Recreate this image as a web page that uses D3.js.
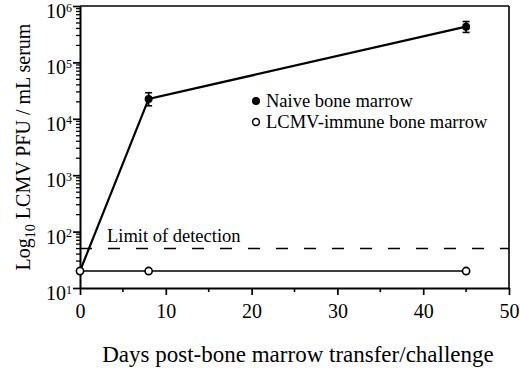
<!DOCTYPE html>
<html><head><meta charset="utf-8">
<script src="https://cdn.jsdelivr.net/npm/d3@7"></script>
<style>body{margin:0;background:#fff}svg{display:block}svg text{font-family:"Liberation Serif","Times New Roman",serif !important;fill:#000}</style>
</head><body>
<svg id="c" width="520" height="372"></svg>
<script>
const days = [0, 8, 45];
const naive = [20, 22500, 430000];
const naiveHi = [20, 29000, 530000];
const naiveLo = [20, 17000, 340000];
const immune = [20, 20, 20];
const limit = 50;
const xTicks = [0, 10, 20, 30, 40, 50];
const yExps = [1, 2, 3, 4, 5, 6];
const legendLabels = ["Naive bone marrow", "LCMV-immune bone marrow"];

const svg = d3.select("#c");
const L = 80, R = 509, T = 6, B = 288;
const x = d3.scaleLinear().domain([0, 50]).range([L, R]);
const y = d3.scaleLog().domain([10, 1e6]).range([B, T]);

// frame top/right
svg.append("line").attr("x1", L).attr("x2", R).attr("y1", T).attr("y2", T).attr("stroke", "#000").attr("stroke-width", 1.6);
svg.append("line").attr("x1", R).attr("x2", R).attr("y1", T).attr("y2", B).attr("stroke", "#000").attr("stroke-width", 1.6);

// x axis
const xMinor = d3.range(5, 50, 10);
const gx = svg.append("g").attr("transform", `translate(0,${B})`);
gx.call(d3.axisBottom(x).tickValues(xTicks).tickSize(7).tickSizeOuter(0).tickPadding(8));
gx.attr("font-family", null);
gx.append("g").selectAll("line").data(xMinor).join("line")
  .attr("x1", d => x(d)).attr("x2", d => x(d)).attr("y1", 0).attr("y2", 4).attr("stroke", "#000").attr("stroke-width", 1.6);
gx.select(".domain").attr("stroke-width", 2);
gx.selectAll(".tick line").attr("stroke-width", 1.7);
gx.selectAll(".tick text").attr("font-size", 20).attr("dy", "0.75em");

// y axis
const gy = svg.append("g").attr("transform", `translate(${L},0)`);
gy.call(d3.axisLeft(y).tickValues(yExps.map(e => Math.pow(10, e))).tickSize(7).tickSizeOuter(0).tickFormat(""));
gy.attr("font-family", null);
gy.select(".domain").attr("stroke-width", 2);
gy.selectAll(".tick line").attr("stroke-width", 1.7);
const yMinor = [];
for (let e = 1; e < 6; e++) for (let m = 2; m <= 9; m++) yMinor.push(m * Math.pow(10, e));
gy.append("g").selectAll("line").data(yMinor).join("line")
  .attr("x1", -4).attr("x2", 0).attr("y1", d => y(d)).attr("y2", d => y(d)).attr("stroke", "#000").attr("stroke-width", 1.3);
const yl = gy.append("g").selectAll("text").data(yExps).join("text")
  .attr("x", -8).attr("y", d => y(Math.pow(10, d)) + 12).attr("text-anchor", "end").attr("font-size", 20);
yl.append("tspan").text("10");
yl.append("tspan").text(d => d).attr("font-size", 12).attr("dy", -6.5);

// limit of detection
svg.append("line").attr("x1", L).attr("x2", R).attr("y1", y(limit)).attr("y2", y(limit))
  .attr("stroke", "#000").attr("stroke-width", 1.5).attr("stroke-dasharray", "12,16");
svg.append("text").attr("x", 107).attr("y", 242).attr("font-size", 18.5).text("Limit of detection");

// immune series
const line = d3.line().x((d, i) => x(days[i])).y(d => y(d));
svg.append("path").attr("d", line(immune)).attr("fill", "none").attr("stroke", "#000").attr("stroke-width", 1.6);
// naive series
svg.append("path").attr("d", line(naive)).attr("fill", "none").attr("stroke", "#000").attr("stroke-width", 2.2);
// error bars
const eb = svg.append("g").selectAll("g").data(days.map((d, i) => i).filter(i => naiveHi[i] !== naiveLo[i])).join("g");
eb.append("line").attr("x1", i => x(days[i])).attr("x2", i => x(days[i])).attr("y1", i => y(naiveHi[i])).attr("y2", i => y(naiveLo[i])).attr("stroke", "#000").attr("stroke-width", 1.6);
eb.append("line").attr("x1", i => x(days[i]) - 3.5).attr("x2", i => x(days[i]) + 3.5).attr("y1", i => y(naiveHi[i])).attr("y2", i => y(naiveHi[i])).attr("stroke", "#000").attr("stroke-width", 1.6);
eb.append("line").attr("x1", i => x(days[i]) - 3.5).attr("x2", i => x(days[i]) + 3.5).attr("y1", i => y(naiveLo[i])).attr("y2", i => y(naiveLo[i])).attr("stroke", "#000").attr("stroke-width", 1.6);

svg.append("g").selectAll("circle").data(naive).join("circle")
  .attr("cx", (d, i) => x(days[i])).attr("cy", d => y(d)).attr("r", 4).attr("fill", "#000");
svg.append("g").selectAll("circle").data(immune).join("circle")
  .attr("cx", (d, i) => x(days[i])).attr("cy", d => y(d)).attr("r", 3.6).attr("fill", "#fff").attr("stroke", "#000").attr("stroke-width", 1.6);

// legend
const lg = svg.append("g");
lg.append("circle").attr("cx", 256).attr("cy", 101).attr("r", 4).attr("fill", "#000");
lg.append("circle").attr("cx", 256).attr("cy", 122).attr("r", 3.4).attr("fill", "#fff").attr("stroke", "#000").attr("stroke-width", 1.5);
lg.append("text").attr("x", 266).attr("y", 107).attr("font-size", 18.5).text(legendLabels[0]);
lg.append("text").attr("x", 266).attr("y", 128).attr("font-size", 18.5).text(legendLabels[1]);

// axis titles
svg.append("text").attr("x", 298).attr("y", 362).attr("text-anchor", "middle").attr("font-size", 23)
  .text("Days post-bone marrow transfer/challenge");
const yt = svg.append("text").attr("transform", "translate(30,147) rotate(-90)").attr("text-anchor", "middle").attr("font-size", 20);
yt.append("tspan").text("Log");
yt.append("tspan").text("10").attr("font-size", 14).attr("dy", 5);
yt.append("tspan").text(" LCMV PFU / mL serum").attr("dy", -5);
</script>
</body></html>
